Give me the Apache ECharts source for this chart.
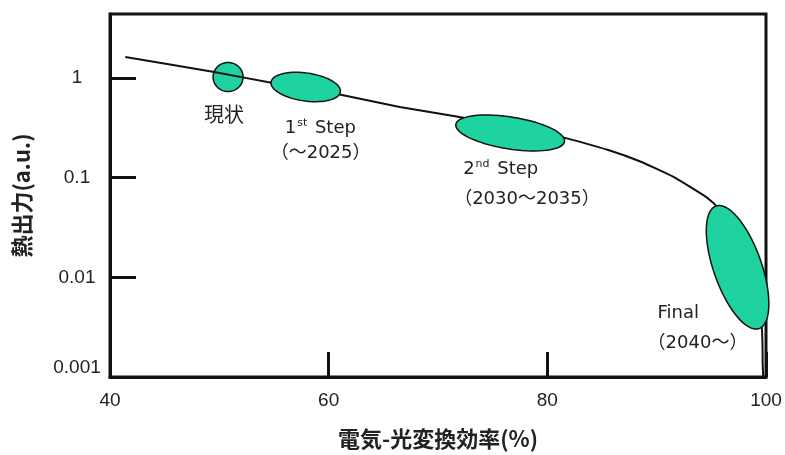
<!DOCTYPE html>
<html>
<head>
<meta charset="utf-8">
<script src="https://cdn.jsdelivr.net/npm/echarts@6/dist/echarts.min.js"></script>
<style>
  html, body { margin: 0; padding: 0; background: #fff; }
  #chart { width: 785px; height: 455px; }
</style>
</head>
<body>
<div id="chart"></div>
<script>
// curve: efficiency (%) vs heat output (a.u.)
var curveEff  = [41.4, 49.4, 54.4, 61.0, 66.5, 71.7, 81.6, 85.5, 88.5, 91.5, 94.6, 95.5, 99.6, 99.7, 99.75];
var curveHeat = [1.62, 1.15, 0.91, 0.68, 0.51, 0.41, 0.25, 0.19, 0.145, 0.102, 0.063, 0.051, 0.0032, 0.0013, 0.001];

// stages (ellipses on the curve)
var stageNames  = ['現状', '1{sup|st} Step', '2{sup|nd} Step', 'Final'];
var stagePeriod = ['', '（～2025）', '（2030～2035）', '（2040～）'];
var stageEff    = [50.8, 57.9, 76.6, 97.4];
var stageHeat   = [1.02, 0.81, 0.28, 0.0126];

var yTickLabels = [0.001, 0.01, 0.1, 1];

// ellipse shapes (pixels): semi axes, rotation in degrees, label offsets
var stageStyle = [
  {rx: 15, ry: 14.5, rot: 0,    name: [-4, 37],  period: null},
  {rx: 35, ry: 14,   rot: 8,    name: [-21, 41], period: [-35, 66]},
  {rx: 55, ry: 16,   rot: 9,    name: [-47, 36], period: [-56, 66]},
  {rx: 65, ry: 24,   rot: 70.6, name: [-80, 46], period: [-90, 76]}
];

var green = '#1fd3a1';
var numFont = '"Liberation Sans", Arial, sans-serif';
var jpFont = '"Noto Sans CJK JP", sans-serif';
var labelFont = '"DejaVu Sans", "Noto Sans CJK JP", sans-serif';

var curveData = curveEff.map(function (e, i) { return [e, curveHeat[i]]; });
var stageData = stageEff.map(function (e, i) { return [e, stageHeat[i]]; });

function ellipsePoints(cx, cy, s) {
  var pts = [];
  var a = s.rot * Math.PI / 180;
  for (var k = 0; k < 72; k++) {
    var t = k / 72 * Math.PI * 2;
    var x = s.rx * Math.cos(t), y = s.ry * Math.sin(t);
    pts.push([cx + x * Math.cos(a) - y * Math.sin(a), cy + x * Math.sin(a) + y * Math.cos(a)]);
  }
  return pts;
}

function renderStage(params, api) {
  var i = params.dataIndex;
  var c = api.coord([api.value(0), api.value(1)]);
  var s = stageStyle[i];
  var children = [{
    type: 'polygon',
    shape: {points: ellipsePoints(c[0], c[1], s)},
    style: {fill: green, stroke: '#111', lineWidth: 1.5}
  }];
  if (!s.period) {
    children.push({
      type: 'text',
      style: {text: stageNames[i], x: c[0] + s.name[0], y: c[1] + s.name[1], fill: '#222',
        fontSize: 20, fontFamily: jpFont, align: 'center', verticalAlign: 'middle'}
    });
  } else {
    children.push({
      type: 'text',
      style: {
        text: stageNames[i], x: c[0] + s.name[0], y: c[1] + s.name[1], fill: '#222',
        fontSize: 18, fontFamily: labelFont, verticalAlign: 'middle',
        rich: {sup: {fontSize: 11, fontFamily: labelFont, verticalAlign: 'top', padding: [0, 2, 9, 1], fill: '#222'}}
      }
    });
    children.push({
      type: 'text',
      style: {text: stagePeriod[i], x: c[0] + s.period[0], y: c[1] + s.period[1], fill: '#222',
        fontSize: 18, fontFamily: labelFont, verticalAlign: 'middle'}
    });
  }
  return {type: 'group', children: children};
}

var myChart = echarts.init(document.getElementById('chart'));

var option = {
  animation: false,
  grid: {
    left: 110, right: 19, top: 14, bottom: 78,
    containLabel: false,
    outerBoundsMode: 'none',
    show: true, borderColor: '#111', borderWidth: 3, backgroundColor: 'transparent'
  },
  xAxis: {
    type: 'value',
    min: 40, max: 100, interval: 20,
    name: '電気-光変換効率(%)',
    nameLocation: 'middle',
    nameGap: 51,
    nameTextStyle: {fontFamily: jpFont, fontSize: 22, fontWeight: 'bold', color: '#222'},
    axisLine: {lineStyle: {color: '#111', width: 3}},
    axisTick: {inside: true, length: 25, lineStyle: {color: '#111', width: 3}},
    axisLabel: {margin: 14, fontFamily: numFont, fontSize: 19, color: '#222'},
    splitLine: {show: false}
  },
  yAxis: {
    type: 'log',
    logBase: 10,
    min: 0.001, max: 4.37,
    name: '熱出力(a.u.)',
    nameLocation: 'middle',
    nameGap: 77,
    nameTextStyle: {fontFamily: jpFont, fontSize: 22, fontWeight: 'bold', color: '#222'},
    axisLine: {lineStyle: {color: '#111', width: 3}},
    axisTick: {inside: true, length: 26, lineStyle: {color: '#111', width: 3}},
    minorTick: {show: false},
    axisLabel: {
      margin: 33, align: 'center', fontFamily: numFont, fontSize: 19, color: '#222',
      showMaxLabel: false,
      verticalAlignMinLabel: 'bottom',
      formatter: function (v) {
        for (var i = 0; i < yTickLabels.length; i++) {
          if (Math.abs(v / yTickLabels[i] - 1) < 0.01) return String(yTickLabels[i]);
        }
        return '';
      }
    },
    splitLine: {show: false}
  },
  series: [
    {
      type: 'custom',
      name: 'current',
      z: 1,
      clip: false,
      renderItem: renderStage,
      data: stageData.slice(0, 1)
    },
    {
      type: 'line',
      name: 'curve',
      z: 2,
      data: curveData,
      smooth: 0.15,
      symbol: 'none',
      clip: true,
      lineStyle: {color: '#111', width: 2}
    },
    {
      type: 'custom',
      name: 'steps',
      z: 3,
      clip: false,
      renderItem: function (params, api) {
        return renderStage({dataIndex: params.dataIndex + 1}, api);
      },
      data: stageData.slice(1)
    }
  ]
};

myChart.setOption(option);
</script>
</body>
</html>
